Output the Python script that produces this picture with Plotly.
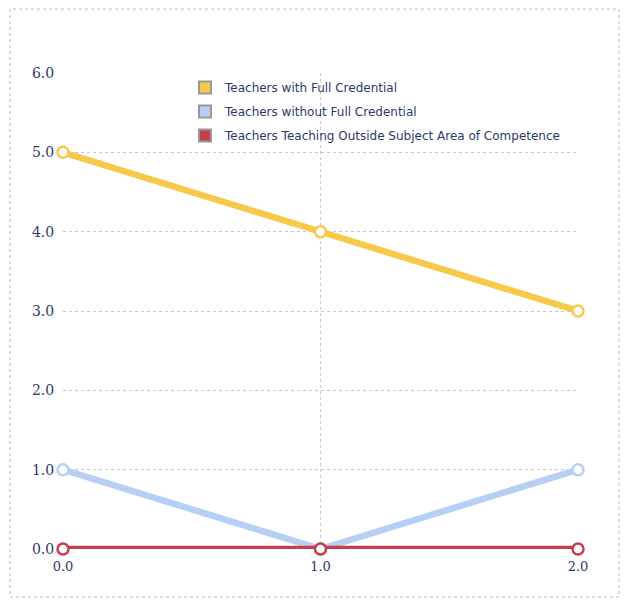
import plotly.graph_objects as go

x_vals = [0.0, 1.0, 2.0]
series_names = [
    "Teachers with Full Credential",
    "Teachers without Full Credential",
    "Teachers Teaching Outside Subject Area of Competence",
]
full_credential = [5.0, 4.0, 3.0]
without_credential = [1.0, 0.0, 1.0]
outside_subject = [0.0, 0.0, 0.0]
series_values = [full_credential, without_credential, outside_subject]
colors = ["#F6C94A", "#B7CFF4", "#C63E4E"]
tick_vals = [0, 1, 2, 3, 4, 5, 6]
tick_text = ["0.0", "1.0", "2.0", "3.0", "4.0", "5.0", "6.0"]
x_tick_text = ["0.0", "1.0", "2.0"]

W, H = 624, 602
L, R, T, B = 63, 46, 73, 53
pw, ph = W - L - R, H - T - B

fig = go.Figure()
for name, vals, c in zip(series_names, series_values, colors):
    fig.add_trace(go.Scatter(
        x=x_vals, y=vals, mode="lines+markers", name=name, showlegend=False,
        line=dict(color=c, width=6.5),
        marker=dict(size=11, color="white", line=dict(color=c, width=2.5)),
        cliponaxis=False,
    ))
for i, (name, c) in enumerate(zip(series_names, colors)):
    fig.add_trace(go.Scatter(
        x=[None], y=[None], mode="markers", name=name, showlegend=True,
        legendgroup="g%d" % i,
        marker=dict(symbol="square", size=17, color=c, line=dict(color="#999999", width=1)),
    ))

def px_x(p):
    return (p - L) / pw

def px_y(p):
    return (H - B - p) / ph

fig.add_shape(type="rect", xref="paper", yref="paper",
              x0=px_x(10), x1=px_x(619), y0=px_y(597), y1=px_y(9),
              line=dict(color="#BBBBBB", width=1, dash="dot"), layer="below")

fig.update_layout(
    width=W, height=H,
    margin=dict(l=L, r=R, t=T, b=B),
    paper_bgcolor="white", plot_bgcolor="white",
    font=dict(family="DejaVu Sans", size=12, color="#2C3A6B"),
    legend=dict(x=px_x(185), y=px_y(73), xanchor="left", yanchor="top",
                bgcolor="rgba(255,255,255,0)", borderwidth=0,
                traceorder="grouped", tracegroupgap=5,
                font=dict(size=12, color="#2C3A6B"), itemsizing="constant"),
    xaxis=dict(range=[0, 2], tickvals=x_vals, ticktext=x_tick_text,
               showgrid=True, gridcolor="#C8C8C8", griddash="dot",
               zeroline=False, showline=False, ticks="outside", ticklen=5,
               tickcolor="rgba(0,0,0,0)",
               tickfont=dict(family="DejaVu Serif", size=13, color="#2C3A6B")),
    yaxis=dict(range=[0, 6], tickvals=tick_vals, ticktext=tick_text,
               showgrid=True, gridcolor="#C8C8C8", griddash="dot",
               zeroline=False, showline=False, ticks="outside", ticklen=5,
               tickcolor="rgba(0,0,0,0)",
               tickfont=dict(family="DejaVu Serif", size=14, color="#2C3A6B")),
)

fig.write_html("out.html", config={"displayModeBar": False},
               post_script="document.body.style.margin='0';document.body.style.padding='0';")
